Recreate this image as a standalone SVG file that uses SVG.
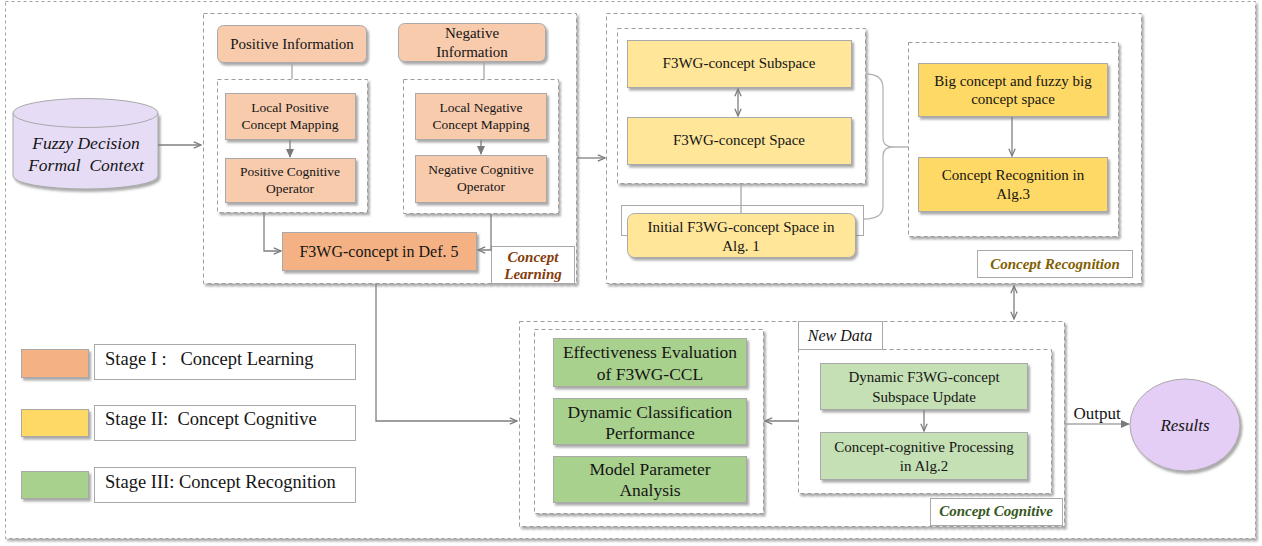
<svg xmlns="http://www.w3.org/2000/svg" width="1262" height="546" viewBox="0 0 1262 546">
<defs>
<filter id="sh" x="-5%" y="-5%" width="115%" height="125%"><feDropShadow dx="2" dy="2.5" stdDeviation="1.2" flood-color="#6f6f6f" flood-opacity="0.6"/></filter>
<marker id="ah" viewBox="0 0 10 10" refX="9" refY="5" markerWidth="9" markerHeight="9" orient="auto-start-reverse" markerUnits="userSpaceOnUse"><path d="M1,1.5 L9,5 L1,8.5" fill="none" stroke="#7a7a7a" stroke-width="1.4"/></marker>
<marker id="tri" viewBox="0 0 10 10" refX="9" refY="5" markerWidth="9" markerHeight="9" orient="auto-start-reverse" markerUnits="userSpaceOnUse"><path d="M0,0.5 L10,5 L0,9.5 Z" fill="#7a7a7a"/></marker>
</defs>
<style>
.t{font-family:"Liberation Serif","Times New Roman",serif;fill:#151515;text-anchor:middle}
.i{font-style:italic}
.lb{font-style:italic;font-weight:bold}
.box{stroke:#a9a9a9;stroke-width:1;filter:url(#sh)}
.dash{fill:#fff;stroke:#9c9c9c;stroke-width:1;stroke-dasharray:4 3;filter:url(#sh)}
.lab{fill:#fff;stroke:#a9a9a9;stroke-width:1}
.ln{fill:none;stroke:#7f7f7f;stroke-width:1.3}
.lt{fill:none;stroke:#a6a6a6;stroke-width:1.3}
.p1{fill:#f8cbad}
.p2{fill:#f4b183}
.y1{fill:#ffe699}
.y2{fill:#ffd966}
.g1{fill:#a9d18e}
.g2{fill:#c5e0b4}
</style>
<rect width="1262" height="546" fill="#fff"/>
<rect x="5.5" y="1.5" width="1250" height="537" fill="#fff" stroke="#a0a0a0" stroke-dasharray="3 3" filter="url(#sh)"/>

<g id="containers">
<rect class="dash" x="203.5" y="13.5" width="373" height="270"/>
<rect class="dash" x="606.5" y="13.5" width="535" height="270"/>
<rect class="dash" x="519.5" y="321.5" width="545" height="205"/>
<rect class="dash" x="217.5" y="79.5" width="150" height="133"/>
<rect class="dash" x="403.5" y="79.5" width="155" height="134"/>
<rect class="dash" x="617.5" y="28.5" width="248" height="155"/>
<rect class="dash" x="908.5" y="42.5" width="210" height="194"/>
<rect class="dash" x="534.5" y="329.5" width="229" height="184"/>
<rect class="dash" x="798.5" y="349.5" width="253" height="144"/>
</g>

<g id="label-concept-learning">
<rect class="lab" x="491.5" y="246.5" width="83" height="37"/>
<text class="t lb" x="533" y="262" font-size="15" style="fill:#843c0c">Concept</text>
<text class="t lb" x="533" y="279" font-size="15" style="fill:#843c0c">Learning</text>
</g>
<g id="label-concept-recognition">
<rect class="lab" x="977.5" y="250.5" width="155" height="27"/>
<text class="t lb" x="1055" y="269" font-size="15" style="fill:#7f6000">Concept Recognition</text>
</g>
<g id="label-new-data">
<rect class="lab" x="798.5" y="321.5" width="84" height="28"/>
<text class="t i" x="840" y="341" font-size="16">New Data</text>
</g>
<g id="label-concept-cognitive">
<rect class="lab" x="930.5" y="498.5" width="132" height="27"/>
<text class="t lb" x="996" y="516" font-size="15" style="fill:#385723">Concept Cognitive</text>
</g>

<g id="fuzzy-decision-formal-context">
<path d="M13,113 V176 A72.5,13 0 0 0 158,176 V113" fill="#e6dcf5" stroke="#a9a9a9" filter="url(#sh)"/>
<ellipse cx="85.5" cy="113" rx="72.5" ry="14.5" fill="#e6dcf5" stroke="#a9a9a9"/>
<text class="t i" x="86" y="149" font-size="17.5">Fuzzy Decision</text>
<text class="t i" x="86" y="171" font-size="17.5" xml:space="preserve">Formal  Context</text>
</g>

<g id="positive-information">
<rect class="box p1" x="217.5" y="25.5" width="149" height="37" rx="6"/>
<text class="t" x="292" y="49" font-size="15">Positive Information</text>
</g>
<g id="negative-information">
<rect class="box p1" x="398.5" y="23.5" width="147" height="38" rx="6"/>
<text class="t" x="472" y="38" font-size="15">Negative</text>
<text class="t" x="472" y="57" font-size="15">Information</text>
</g>
<g id="local-positive-concept-mapping">
<rect class="box p1" x="225.5" y="93.5" width="130" height="46"/>
<text class="t" x="290" y="112" font-size="13.5">Local Positive</text>
<text class="t" x="290" y="129" font-size="13.5">Concept Mapping</text>
</g>
<g id="positive-cognitive-operator">
<rect class="box p1" x="225.5" y="158.5" width="130" height="44"/>
<text class="t" x="290" y="176" font-size="13.5">Positive Cognitive</text>
<text class="t" x="290" y="193" font-size="13.5">Operator</text>
</g>
<g id="local-negative-concept-mapping">
<rect class="box p1" x="415.5" y="93.5" width="131" height="46"/>
<text class="t" x="481" y="112" font-size="13.5">Local Negative</text>
<text class="t" x="481" y="129" font-size="13.5">Concept Mapping</text>
</g>
<g id="negative-cognitive-operator">
<rect class="box p1" x="415.5" y="155.5" width="131" height="47"/>
<text class="t" x="481" y="174" font-size="13.5">Negative Cognitive</text>
<text class="t" x="481" y="191" font-size="13.5">Operator</text>
</g>
<g id="f3wg-concept-def5">
<rect class="box p2" x="282.5" y="232.5" width="194" height="38"/>
<text class="t" x="379" y="257" font-size="16">F3WG-concept in Def. 5</text>
</g>

<g id="f3wg-concept-subspace">
<rect class="box y1" x="627.5" y="40.5" width="224" height="47"/>
<text class="t" x="739" y="68" font-size="15">F3WG-concept Subspace</text>
</g>
<g id="f3wg-concept-space">
<rect class="box y1" x="627.5" y="117.5" width="224" height="47"/>
<text class="t" x="739" y="145" font-size="15">F3WG-concept Space</text>
</g>
<g id="initial-f3wg-concept-space">
<rect x="621.5" y="205.5" width="242" height="30" fill="#fff" stroke="#a9a9a9"/>
<rect class="box y1" x="627.5" y="213.5" width="228" height="44" rx="7"/>
<text class="t" x="741" y="232" font-size="15">Initial F3WG-concept Space in</text>
<text class="t" x="741" y="251" font-size="15">Alg. 1</text>
</g>
<g id="big-concept-space">
<rect class="box y2" x="918.5" y="63.5" width="189" height="53"/>
<text class="t" x="1013" y="86" font-size="15">Big concept and fuzzy big</text>
<text class="t" x="1013" y="104" font-size="15">concept space</text>
</g>
<g id="concept-recognition-alg3">
<rect class="box y2" x="918.5" y="157.5" width="189" height="54"/>
<text class="t" x="1013" y="180" font-size="15">Concept Recognition in</text>
<text class="t" x="1013" y="199" font-size="15">Alg.3</text>
</g>

<g id="effectiveness-evaluation">
<rect class="box g1" x="553.5" y="338.5" width="193" height="48"/>
<text class="t" x="650" y="358" font-size="17.5">Effectiveness Evaluation</text>
<text class="t" x="650" y="380" font-size="17.5">of F3WG-CCL</text>
</g>
<g id="dynamic-classification-performance">
<rect class="box g1" x="553.5" y="398.5" width="193" height="46"/>
<text class="t" x="650" y="418" font-size="17.5">Dynamic Classification</text>
<text class="t" x="650" y="439" font-size="17.5">Performance</text>
</g>
<g id="model-parameter-analysis">
<rect class="box g1" x="553.5" y="456.5" width="193" height="46"/>
<text class="t" x="650" y="475" font-size="17.5">Model Parameter</text>
<text class="t" x="650" y="496" font-size="17.5">Analysis</text>
</g>
<g id="dynamic-subspace-update">
<rect class="box g2" x="820.5" y="363.5" width="207" height="46"/>
<text class="t" x="924" y="382" font-size="15">Dynamic F3WG-concept</text>
<text class="t" x="924" y="402" font-size="15">Subspace Update</text>
</g>
<g id="concept-cognitive-processing">
<rect class="box g2" x="820.5" y="432.5" width="207" height="47"/>
<text class="t" x="924" y="452" font-size="15">Concept-cognitive Processing</text>
<text class="t" x="924" y="471" font-size="15">in Alg.2</text>
</g>

<g id="results">
<ellipse cx="1185" cy="425" rx="55" ry="46" fill="#e5cef5" stroke="#a9a9a9" filter="url(#sh)"/>
<text class="t i" x="1185" y="431" font-size="17">Results</text>
</g>

<g id="legend">
<rect class="box p2" x="21.5" y="349.5" width="67" height="28"/>
<rect class="lab" x="94.5" y="344.5" width="261" height="35"/>
<text class="t" x="105" y="365" font-size="18.5" style="text-anchor:start" xml:space="preserve">Stage I :   Concept Learning</text>
<rect class="box y2" x="21.5" y="409.5" width="67" height="27"/>
<rect class="lab" x="94.5" y="405.5" width="261" height="35"/>
<text class="t" x="105" y="425" font-size="18.5" style="text-anchor:start" xml:space="preserve">Stage II:  Concept Cognitive</text>
<rect class="box g1" x="21.5" y="471.5" width="67" height="27"/>
<rect class="lab" x="94.5" y="467.5" width="261" height="35"/>
<text class="t" x="105" y="488" font-size="18.5" style="text-anchor:start">Stage III: Concept Recognition</text>
</g>

<g id="connectors">
<line class="ln" x1="158" y1="145" x2="201" y2="145" marker-end="url(#ah)"/>
<line class="lt" x1="292" y1="62" x2="292" y2="79"/>
<line class="lt" x1="484" y1="61" x2="484" y2="79"/>
<line class="ln" x1="290" y1="140" x2="290" y2="157" marker-end="url(#tri)"/>
<line class="ln" x1="481" y1="140" x2="481" y2="154" marker-end="url(#tri)"/>
<path class="ln" d="M264,213 V251 H281" marker-end="url(#ah)"/>
<path class="ln" d="M491,214 V250 H478" marker-end="url(#ah)"/>
<line class="ln" x1="577" y1="158" x2="605" y2="158" marker-end="url(#ah)"/>
<line class="ln" x1="738" y1="89" x2="738" y2="116" marker-start="url(#ah)" marker-end="url(#ah)"/>
<line class="lt" x1="741" y1="184" x2="741" y2="213"/>
<path d="M866,74 Q883,74 883,88 V138 Q883,147 893,147 H908 M893,147 Q883,147 883,156 V206 Q883,219 864,219" fill="none" stroke="#b5b5b5" stroke-width="1.3"/>
<line class="ln" x1="1012" y1="117" x2="1012" y2="156" marker-end="url(#ah)"/>
<line class="ln" x1="1014" y1="286" x2="1014" y2="319" marker-start="url(#ah)" marker-end="url(#ah)"/>
<path class="ln" d="M376,284 V421 H517" marker-end="url(#ah)"/>
<line class="ln" x1="798" y1="421" x2="765" y2="421" marker-end="url(#ah)"/>
<line class="ln" x1="924" y1="410" x2="924" y2="431" marker-end="url(#ah)"/>
<line class="lt" x1="1065" y1="424" x2="1129" y2="424" marker-end="url(#tri)"/>
<text class="t" x="1097" y="419" font-size="17">Output</text>
</g>
</svg>
